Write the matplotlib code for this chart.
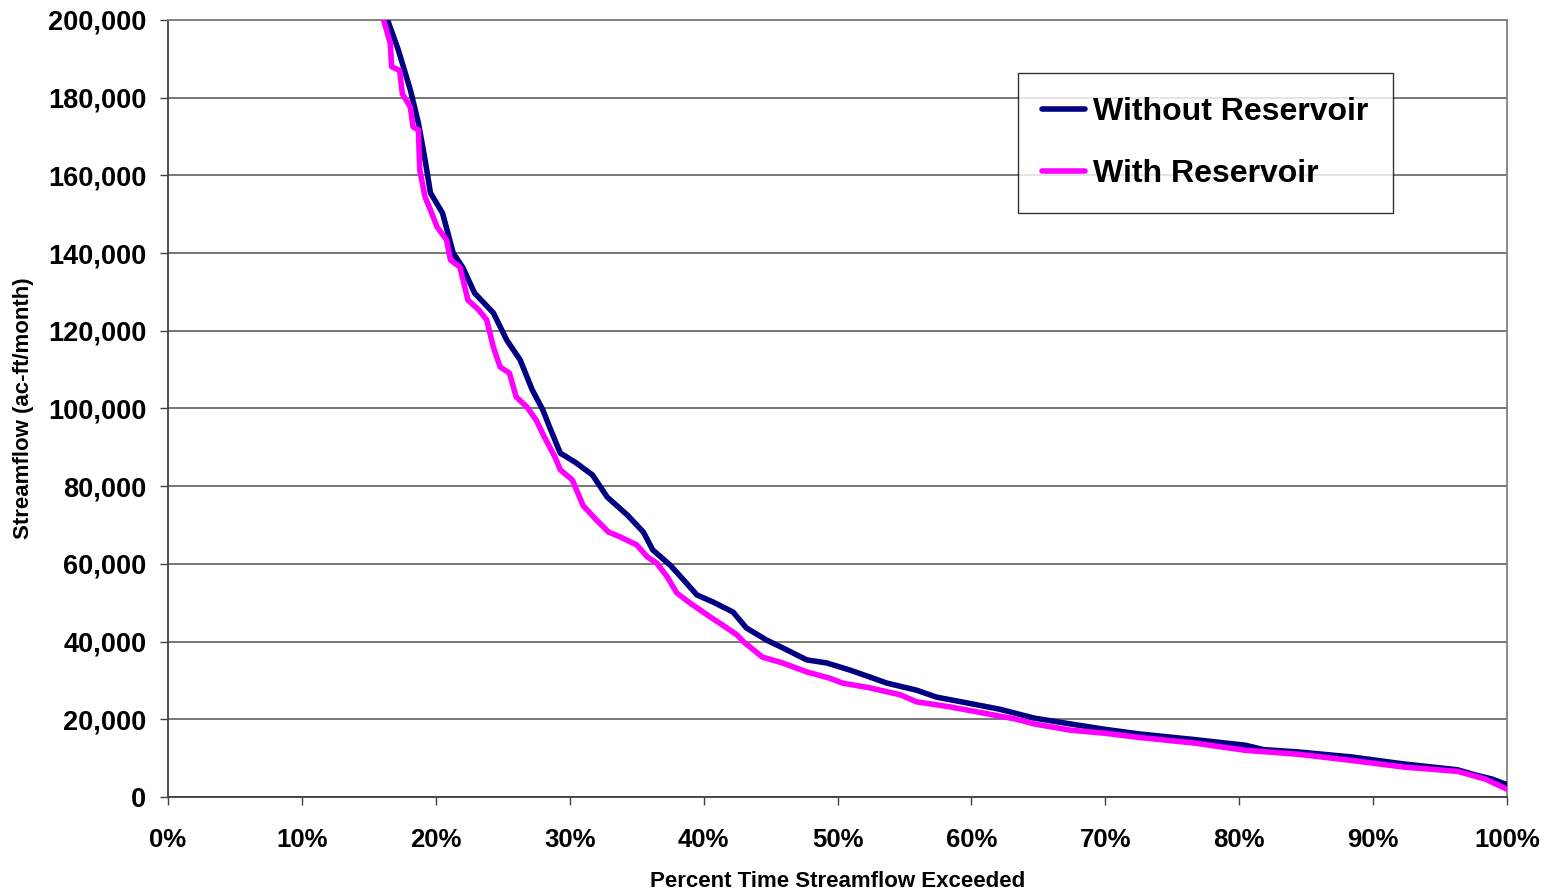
import matplotlib
matplotlib.use("Agg")
import matplotlib.pyplot as plt
from matplotlib.ticker import FuncFormatter, MultipleLocator

plt.rcParams['font.family'] = ['Liberation Sans', 'DejaVu Sans']
plt.rcParams['font.weight'] = 'bold'

# Percent time exceeded (%) and streamflow (ac-ft/month)
without_x = [15.8, 16.4, 17.2, 18.1, 18.7, 19.2, 19.6, 20.5, 20.9, 21.3, 22.0, 22.9, 24.3,
             25.3, 26.3, 27.2, 28.0, 28.5, 29.3, 30.4, 31.7, 32.8, 34.3, 35.5, 36.2,
             37.5, 38.5, 39.5, 40.7, 42.2, 43.2, 44.7, 45.9, 47.7, 49.2, 50.9, 52.4,
             53.7, 55.9, 57.4, 59.7, 62.1, 64.7, 67.4, 70.0, 72.6, 76.6, 80.5, 81.8,
             84.4, 88.4, 92.3, 96.3, 97.6, 98.9, 99.9, 100.0]
without_y = [212000, 200000, 192300, 182000, 173500, 164000, 155500, 150300, 145200,
             140000, 136400, 129700, 124600, 117600, 112500, 104800, 99600, 95200,
             88500, 86200, 82900, 77200, 72600, 68200, 63600, 59700, 55900, 52000,
             50200, 47600, 43500, 40400, 38400, 35300, 34500, 32700, 30900, 29300,
             27500, 25700, 24200, 22600, 20300, 18800, 17400, 16200, 14800, 13300,
             12200, 11600, 10300, 8500, 7000, 5700, 4600, 3300, 2200]

with_x = [15.6, 16.1, 16.6, 16.7, 17.3, 17.5, 18.1, 18.3, 18.7, 18.8, 19.2, 19.6, 20.1,
          20.8, 21.1, 21.8, 22.4, 23.2, 23.8, 24.3, 24.8, 25.5, 26.0, 26.8, 27.5,
          28.1, 28.9, 29.3, 30.2, 31.0, 32.0, 32.9, 33.8, 35.0, 35.8, 36.5, 37.3,
          38.0, 39.0, 40.3, 41.4, 42.5, 43.0, 44.4, 45.9, 47.7, 49.4, 50.4, 52.4,
          54.7, 55.9, 58.4, 60.9, 63.4, 64.7, 67.4, 70.0, 72.6, 76.6, 80.5, 84.4,
          88.4, 92.3, 96.3, 98.4, 99.2, 100.0]
with_y = [212000, 200000, 194000, 188000, 187000, 181000, 177600, 172500, 171700,
          161400, 154400, 151100, 146700, 143400, 138200, 136400, 127900, 125400,
          122800, 115800, 110700, 109100, 103000, 100400, 97000, 92700, 87500,
          84200, 81600, 75000, 71300, 68200, 66900, 64900, 61800, 60200, 56600,
          52500, 49900, 46800, 44300, 41700, 39900, 36000, 34500, 32200, 30600,
          29300, 28100, 26300, 24500, 23200, 21600, 20000, 18800, 17200, 16400,
          15300, 13900, 12000, 11000, 9400, 7700, 6600, 4600, 3300, 2000]

series_labels = ['Without Reservoir', 'With Reservoir']
x_label = 'Percent Time Streamflow Exceeded'
y_label = 'Streamflow (ac-ft/month)'

fig = plt.figure(figsize=(15.51, 8.91), dpi=100)
ax = fig.add_axes([168/1551, 1-797/891, (1507-168)/1551, (797-20)/891])

ax.plot(without_x, without_y, color='#000080', lw=4.0, label=series_labels[0],
        solid_joinstyle='round', solid_capstyle='round', zorder=3)
ax.plot(with_x, with_y, color='#FF00FF', lw=4.0, label=series_labels[1],
        solid_joinstyle='round', solid_capstyle='round', zorder=3)

ax.set_xlim(0, 100)
ax.set_ylim(0, 200000)
ax.xaxis.set_major_locator(MultipleLocator(10))
ax.yaxis.set_major_locator(MultipleLocator(20000))
ax.xaxis.set_major_formatter(FuncFormatter(lambda v, p: f"{int(round(v))}%"))
ax.yaxis.set_major_formatter(FuncFormatter(lambda v, p: f"{int(round(v)):,}"))

ax.yaxis.grid(True, color='#606060', lw=1.2, zorder=0)
ax.set_axisbelow(True)

for s in ['left', 'bottom']:
    ax.spines[s].set_color('#404040')
    ax.spines[s].set_linewidth(1.3)
ax.spines['right'].set_color('#808080')
ax.spines['right'].set_linewidth(1.3)
ax.spines['top'].set_color('#808080')
ax.spines['top'].set_linewidth(1.3)

ax.tick_params(axis='x', direction='out', length=6, width=1, color='#404040',
               pad=16, labelsize=18.5)
ax.tick_params(axis='y', direction='out', length=6, width=1, color='#404040',
               pad=9.5, labelsize=19.5)
for lbl in ax.get_xticklabels() + ax.get_yticklabels():
    lbl.set_fontweight('bold')

ax.set_xlabel(x_label, fontsize=16, fontweight='bold', labelpad=14)
ax.set_ylabel(y_label, fontsize=16, fontweight='bold', labelpad=10)

leg = ax.legend(loc='upper left', bbox_to_anchor=(0.635, 0.932), fontsize=23,
                frameon=True, fancybox=False, handlelength=1.35, handletextpad=0.25,
                borderpad=0.75, labelspacing=1.0, borderaxespad=0)
leg.get_frame().set_edgecolor('black')
leg.get_frame().set_linewidth(1.0)
for t in leg.get_texts():
    t.set_fontweight('bold')

fig.savefig('out.png', dpi=100)
